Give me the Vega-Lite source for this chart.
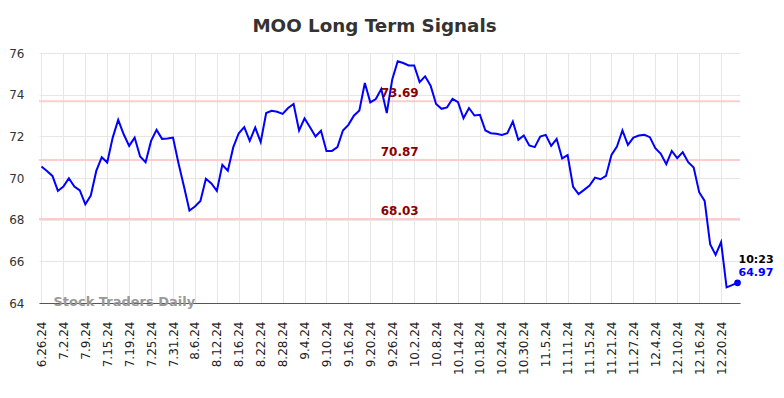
{
  "$schema": "https://vega.github.io/schema/vega-lite/v6.json",
  "width": 701,
  "height": 250,
  "autosize": {"type": "none"},
  "padding": {"left": 39, "top": 53, "right": 44, "bottom": 95},
  "background": "white",
  "title": {"text": "MOO Long Term Signals", "font": "DejaVu Sans", "fontSize": 18.3, "fontWeight": "bold", "color": "#333333", "anchor": "middle", "dx": -15, "baseline": "alphabetic", "offset": -3},
  "config": {"view": {"stroke": null}, "font": "DejaVu Sans"},
  "datasets": {
    "prices": [
      {"d": "6.26.24", "v": 70.55}, {"d": "6.27.24", "v": 70.34}, {"d": "6.28.24", "v": 70.10}, {"d": "7.1.24", "v": 69.38},
      {"d": "7.2.24", "v": 69.59}, {"d": "7.3.24", "v": 69.99}, {"d": "7.5.24", "v": 69.59}, {"d": "7.8.24", "v": 69.40},
      {"d": "7.9.24", "v": 68.74}, {"d": "7.10.24", "v": 69.16}, {"d": "7.11.24", "v": 70.34}, {"d": "7.12.24", "v": 71.00},
      {"d": "7.15.24", "v": 70.74}, {"d": "7.16.24", "v": 71.94}, {"d": "7.17.24", "v": 72.79}, {"d": "7.18.24", "v": 72.10},
      {"d": "7.19.24", "v": 71.54}, {"d": "7.22.24", "v": 71.94}, {"d": "7.23.24", "v": 71.03}, {"d": "7.24.24", "v": 70.76},
      {"d": "7.25.24", "v": 71.78}, {"d": "7.26.24", "v": 72.31}, {"d": "7.29.24", "v": 71.88}, {"d": "7.30.24", "v": 71.90},
      {"d": "7.31.24", "v": 71.94}, {"d": "8.1.24", "v": 70.71}, {"d": "8.2.24", "v": 69.59}, {"d": "8.5.24", "v": 68.44},
      {"d": "8.6.24", "v": 68.63}, {"d": "8.7.24", "v": 68.90}, {"d": "8.8.24", "v": 69.96}, {"d": "8.9.24", "v": 69.74},
      {"d": "8.12.24", "v": 69.38}, {"d": "8.13.24", "v": 70.63}, {"d": "8.14.24", "v": 70.35}, {"d": "8.15.24", "v": 71.48},
      {"d": "8.16.24", "v": 72.15}, {"d": "8.19.24", "v": 72.44}, {"d": "8.20.24", "v": 71.78}, {"d": "8.21.24", "v": 72.42},
      {"d": "8.22.24", "v": 71.72}, {"d": "8.23.24", "v": 73.12}, {"d": "8.26.24", "v": 73.23}, {"d": "8.27.24", "v": 73.18},
      {"d": "8.28.24", "v": 73.08}, {"d": "8.29.24", "v": 73.36}, {"d": "8.30.24", "v": 73.55}, {"d": "9.3.24", "v": 72.28},
      {"d": "9.4.24", "v": 72.86}, {"d": "9.5.24", "v": 72.44}, {"d": "9.6.24", "v": 71.99}, {"d": "9.9.24", "v": 72.27},
      {"d": "9.10.24", "v": 71.30}, {"d": "9.11.24", "v": 71.30}, {"d": "9.12.24", "v": 71.48}, {"d": "9.13.24", "v": 72.28},
      {"d": "9.16.24", "v": 72.55}, {"d": "9.17.24", "v": 72.99}, {"d": "9.18.24", "v": 73.24}, {"d": "9.19.24", "v": 74.56},
      {"d": "9.20.24", "v": 73.63}, {"d": "9.23.24", "v": 73.79}, {"d": "9.24.24", "v": 74.27}, {"d": "9.25.24", "v": 73.12},
      {"d": "9.26.24", "v": 74.73}, {"d": "9.27.24", "v": 75.60}, {"d": "9.30.24", "v": 75.52}, {"d": "10.1.24", "v": 75.40},
      {"d": "10.2.24", "v": 75.40}, {"d": "10.3.24", "v": 74.60}, {"d": "10.4.24", "v": 74.88}, {"d": "10.7.24", "v": 74.43},
      {"d": "10.8.24", "v": 73.55}, {"d": "10.9.24", "v": 73.32}, {"d": "10.10.24", "v": 73.39}, {"d": "10.11.24", "v": 73.80},
      {"d": "10.14.24", "v": 73.64}, {"d": "10.15.24", "v": 72.87}, {"d": "10.16.24", "v": 73.36}, {"d": "10.17.24", "v": 73.00},
      {"d": "10.18.24", "v": 73.03}, {"d": "10.21.24", "v": 72.28}, {"d": "10.22.24", "v": 72.15}, {"d": "10.23.24", "v": 72.12},
      {"d": "10.24.24", "v": 72.07}, {"d": "10.25.24", "v": 72.15}, {"d": "10.28.24", "v": 72.71}, {"d": "10.29.24", "v": 71.83},
      {"d": "10.30.24", "v": 72.04}, {"d": "10.31.24", "v": 71.56}, {"d": "11.1.24", "v": 71.48}, {"d": "11.4.24", "v": 71.99},
      {"d": "11.5.24", "v": 72.07}, {"d": "11.6.24", "v": 71.54}, {"d": "11.7.24", "v": 71.88}, {"d": "11.8.24", "v": 70.94},
      {"d": "11.11.24", "v": 71.10}, {"d": "11.12.24", "v": 69.58}, {"d": "11.13.24", "v": 69.23}, {"d": "11.14.24", "v": 69.43},
      {"d": "11.15.24", "v": 69.64}, {"d": "11.18.24", "v": 70.02}, {"d": "11.19.24", "v": 69.94}, {"d": "11.20.24", "v": 70.10},
      {"d": "11.21.24", "v": 71.11}, {"d": "11.22.24", "v": 71.51}, {"d": "11.25.24", "v": 72.28}, {"d": "11.26.24", "v": 71.59},
      {"d": "11.27.24", "v": 71.94}, {"d": "11.29.24", "v": 72.04}, {"d": "12.2.24", "v": 72.07}, {"d": "12.3.24", "v": 71.96},
      {"d": "12.4.24", "v": 71.43}, {"d": "12.5.24", "v": 71.16}, {"d": "12.6.24", "v": 70.66}, {"d": "12.9.24", "v": 71.30},
      {"d": "12.10.24", "v": 70.95}, {"d": "12.11.24", "v": 71.24}, {"d": "12.12.24", "v": 70.76}, {"d": "12.13.24", "v": 70.50},
      {"d": "12.16.24", "v": 69.32}, {"d": "12.17.24", "v": 68.90}, {"d": "12.18.24", "v": 66.82}, {"d": "12.19.24", "v": 66.31},
      {"d": "12.20.24", "v": 66.92}, {"d": "12.23.24", "v": 64.75}, {"d": "12.24.24", "v": 64.86}, {"d": "12.26.24", "v": 64.97}
    ],
    "levels": [{"level": 73.69}, {"level": 70.87}, {"level": 68.03}]
  },
  "layer": [
    {
      "data": {"name": "levels"},
      "mark": {"type": "rule", "color": "#ffcccc", "strokeWidth": 2},
      "encoding": {
        "y": {"field": "level", "type": "quantitative", "scale": {"domain": [64, 76], "nice": false, "zero": false},
          "axis": {"title": null, "values": [64, 66, 68, 70, 72, 74, 76], "ticks": false, "domain": false, "labelFontSize": 12, "labelColor": "#333333", "labelPadding": 15, "gridColor": "#e6e6e6", "labelFont": "DejaVu Sans"}}
      }
    },
    {
      "data": {"name": "prices"},
      "mark": {"type": "line", "color": "#0000ff", "strokeWidth": 2},
      "encoding": {
        "x": {"field": "d", "type": "ordinal", "sort": null, "scale": {"type": "point", "padding": 0.45},
          "axis": {"title": null, "values": ["6.26.24","7.2.24","7.9.24","7.15.24","7.19.24","7.25.24","7.31.24","8.6.24","8.12.24","8.16.24","8.22.24","8.28.24","9.4.24","9.10.24","9.16.24","9.20.24","9.26.24","10.2.24","10.8.24","10.14.24","10.18.24","10.24.24","10.30.24","11.5.24","11.11.24","11.15.24","11.21.24","11.27.24","12.4.24","12.10.24","12.16.24","12.20.24"],
            "labelAngle": -90, "labelFontSize": 12, "labelColor": "#222222", "labelPadding": 18, "ticks": false,
            "grid": true, "gridColor": "#e6e6e6", "domainColor": "#555555", "domainWidth": 1, "labelFont": "DejaVu Sans"}},
        "y": {"field": "v", "type": "quantitative", "scale": {"domain": [64, 76], "nice": false, "zero": false},
          "axis": {"title": null, "values": [64, 66, 68, 70, 72, 74, 76], "ticks": false, "domain": false, "labelFontSize": 12, "labelColor": "#333333", "labelPadding": 15, "gridColor": "#e6e6e6", "labelFont": "DejaVu Sans"}}
      }
    },
    {
      "data": {"name": "levels"},
      "mark": {"type": "text", "color": "#8b0000", "fontSize": 12, "fontWeight": "bold", "align": "center", "baseline": "alphabetic", "dx": 2, "dy": -4},
      "encoding": {
        "x": {"datum": "9.27.24", "type": "ordinal", "sort": null},
        "y": {"field": "level", "type": "quantitative"},
        "text": {"field": "level", "type": "quantitative", "format": ".2f"}
      }
    },
    {
      "data": {"values": [{"label": "Stock Traders Daily"}]},
      "mark": {"type": "text", "color": "#999999", "fontSize": 13, "fontWeight": "bold", "align": "left", "baseline": "alphabetic", "dx": 12, "dy": 3},
      "encoding": {
        "x": {"datum": "6.26.24", "type": "ordinal", "sort": null},
        "y": {"datum": 64, "type": "quantitative"},
        "text": {"field": "label"}
      }
    },
    {
      "data": {"name": "prices"},
      "transform": [{"filter": "datum.d == '12.26.24'"}],
      "layer": [
        {"mark": {"type": "point", "filled": true, "color": "#0000ff", "size": 45, "opacity": 1}},
        {"mark": {"type": "text", "color": "#0000ff", "fontSize": 11, "fontWeight": "bold", "align": "left", "baseline": "alphabetic", "dx": 1, "dy": -7},
          "encoding": {"text": {"field": "v", "type": "quantitative", "format": ".2f"}}},
        {"mark": {"type": "text", "color": "#000000", "fontSize": 11, "fontWeight": "bold", "align": "left", "baseline": "alphabetic", "dx": 1, "dy": -20},
          "encoding": {"text": {"value": "10:23"}}}
      ],
      "encoding": {
        "x": {"field": "d", "type": "ordinal", "sort": null},
        "y": {"field": "v", "type": "quantitative"}
      }
    }
  ]
}
